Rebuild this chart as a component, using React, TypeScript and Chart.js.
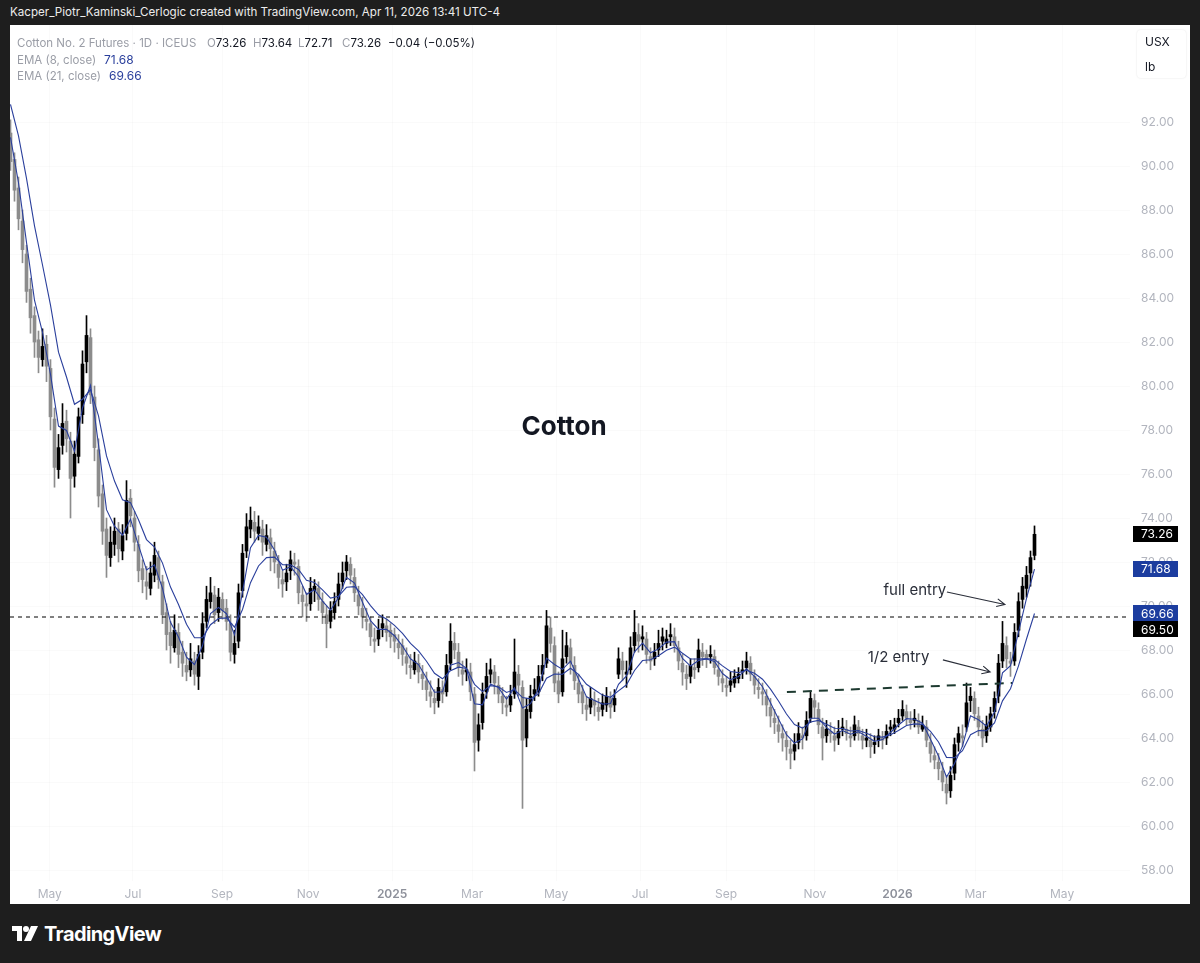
import React, { useEffect, useRef } from 'react';
import { Chart, registerables } from 'chart.js';

Chart.register(...registerables);

const FONT = 'Inter, "Noto Sans", "Liberation Sans", sans-serif';

// ---- Candles (one bar per position index) ----
const opens = [
  91.5,90.3,89.0,87.5,86.0,84.4,83.2,82.1,81.2,81.9,
  80.8,78.5,76.2,77.3,78.4,77.5,75.9,76.8,78.7,81.1,
  82.2,79.5,77.1,75.1,73.5,72.2,72.8,73.5,72.5,73.3,
  74.9,74.0,72.8,71.7,71.1,70.8,71.4,72.2,71.1,69.7,
  68.8,68.1,68.8,67.9,67.3,67.1,67.5,66.8,67.9,69.3,
  70.2,70.5,69.7,70.3,69.9,69.2,67.8,68.4,70.7,72.5,
  73.5,73.8,73.3,73.5,72.8,73.1,72.5,71.9,71.2,71.1,
  71.6,72.0,71.8,70.5,70.1,70.1,70.7,70.8,70.2,69.6,
  69.3,69.7,70.3,71.1,71.6,71.9,71.3,70.5,69.9,69.4,
  69.2,68.5,68.5,69.0,69.1,68.9,68.7,68.3,68.2,67.7,
  67.3,67.1,67.4,66.9,66.6,66.1,65.8,65.7,66.2,66.1,
  67.4,68.3,67.9,67.1,67.0,67.0,66.0,63.9,64.7,66.1,
  66.9,67.0,66.4,65.9,65.5,65.5,66.0,66.9,66.3,64.0,
  65.2,66.0,66.1,66.9,67.4,69.0,68.2,66.6,66.1,67.7,
  68.1,67.3,66.5,66.1,65.5,65.4,65.7,65.4,65.3,65.5,
  65.8,65.5,66.9,67.5,66.9,67.1,68.2,68.7,68.5,68.5,
  67.7,67.6,68.0,68.4,68.3,68.6,68.6,68.1,67.4,66.9,
  66.8,67.2,67.2,67.9,67.8,67.7,67.7,67.1,66.7,66.4,
  66.4,66.5,66.7,67.0,67.2,67.4,66.8,66.3,66.1,65.9,
  65.4,64.9,64.6,64.2,63.9,63.5,63.4,63.8,64.1,64.1,
  64.9,65.7,65.3,64.5,64.1,64.3,64.1,64.0,64.4,64.4,
  64.1,64.1,64.5,64.1,63.9,63.9,63.7,63.9,64.0,64.0,
  64.4,64.4,64.7,65.0,65.2,64.8,64.8,64.8,64.4,64.5,
  63.8,63.2,62.9,62.5,61.9,61.6,62.4,63.8,64.1,64.5,
  65.7,65.8,65.0,64.4,64.1,64.5,65.2,65.9,67.5,68.2,
  67.5,67.5,68.9,70.3,70.8,71.5,72.3,
];
const highs = [
  92.1,90.6,89.5,88.0,86.4,84.9,83.6,82.5,82.6,82.3,
  81.2,79.0,77.8,79.2,78.9,77.9,77.5,79.0,81.6,83.2,
  82.6,80.0,77.6,75.5,74.0,73.6,74.0,73.8,73.7,75.7,
  75.3,74.3,73.2,72.1,71.8,72.0,72.9,72.5,71.4,70.1,
  69.3,69.6,69.2,68.4,67.9,68.3,67.9,68.2,69.7,70.9,
  71.3,70.9,70.8,70.6,70.3,69.6,68.9,71.0,72.8,74.2,
  74.5,74.3,74.1,73.9,73.7,73.5,72.9,72.3,71.6,71.9,
  72.5,72.4,72.1,70.9,70.6,71.3,71.2,71.1,70.6,70.0,
  70.2,70.6,71.5,72.0,72.3,72.2,71.7,70.9,70.4,69.9,
  69.5,69.0,69.4,69.6,69.4,69.2,69.0,68.7,68.5,68.1,
  67.8,67.9,67.8,67.3,67.0,66.6,66.2,66.7,66.6,67.8,
  69.2,68.8,68.3,67.5,67.6,67.4,66.3,65.1,66.5,67.4,
  67.6,67.3,66.8,66.3,65.9,66.4,68.5,67.3,66.6,65.8,
  66.4,66.7,67.3,67.8,69.8,69.5,68.6,67.0,68.9,68.8,
  68.5,67.7,66.9,66.4,65.9,66.3,66.1,65.8,66.0,66.3,
  66.1,66.2,68.1,67.9,67.5,68.6,69.8,69.2,69.1,68.8,
  68.1,68.3,68.9,69.0,68.9,69.2,69.0,68.4,67.8,67.3,
  67.6,67.6,68.5,68.3,68.0,68.2,68.0,67.5,67.1,66.8,
  67.0,67.1,67.2,67.5,67.9,67.7,67.1,66.7,66.5,66.2,
  65.8,65.3,65.0,64.6,64.3,63.9,64.2,64.7,64.5,65.2,
  66.1,66.0,65.6,64.9,64.8,64.7,64.5,64.8,64.9,64.8,
  64.5,65.0,64.8,64.4,64.4,64.2,64.1,64.4,64.3,64.6,
  64.8,64.9,65.3,65.7,65.5,65.2,65.3,65.1,65.0,64.8,
  64.2,63.6,63.3,62.9,62.3,62.7,64.0,64.5,64.6,66.5,
  66.3,66.1,65.4,64.8,65.0,65.4,66.1,67.8,69.3,68.6,
  67.9,69.2,70.6,71.3,71.8,72.5,73.64,
];
const lows = [
  89.8,88.4,87.1,85.6,83.8,82.4,81.3,80.6,80.9,80.2,
  78.0,75.4,75.8,76.9,77.0,74.0,75.4,76.5,78.3,80.6,
  79.2,76.6,74.5,72.8,71.3,71.8,72.3,72.0,72.1,73.0,
  73.6,72.5,71.1,70.6,70.3,70.5,71.1,70.8,69.2,68.0,
  67.4,67.9,67.2,66.8,66.6,66.8,66.4,66.2,67.6,69.0,
  69.9,69.2,69.3,69.4,68.9,67.5,67.4,68.1,70.4,72.2,
  73.1,72.9,73.0,72.3,72.5,71.6,71.5,70.8,70.4,70.7,
  71.2,71.4,70.1,69.5,69.3,69.8,70.2,69.8,69.2,68.1,
  69.0,69.4,70.0,70.8,71.2,71.0,70.2,69.6,69.0,68.9,
  68.2,67.9,68.2,68.6,68.4,68.1,67.9,67.6,67.3,66.9,
  66.7,66.9,66.5,66.2,65.7,65.4,65.1,65.4,65.6,65.9,
  67.1,67.6,66.8,66.4,66.6,65.7,62.5,63.4,64.4,65.8,
  66.5,66.0,65.6,65.1,65.0,65.2,65.8,65.9,60.8,63.6,
  64.9,65.7,65.9,66.6,67.2,67.9,66.1,65.6,65.9,67.4,
  66.9,66.2,65.6,65.1,64.8,65.1,65.0,64.8,65.0,65.2,
  64.9,65.2,66.7,66.6,66.3,66.9,67.9,67.9,68.0,67.4,
  67.1,67.3,67.7,68.0,68.1,68.2,67.9,67.1,66.4,66.2,
  66.5,66.7,67.0,67.3,67.2,67.4,66.9,66.4,66.1,65.9,
  66.1,66.3,66.5,66.7,66.9,66.6,66.0,65.8,65.5,65.0,
  64.5,64.2,63.8,63.4,63.0,62.6,63.0,63.5,63.5,63.9,
  64.7,64.9,64.2,63.0,63.8,63.8,63.4,63.7,64.1,63.9,
  63.6,63.9,63.9,63.5,63.6,63.1,63.3,63.6,63.5,63.7,
  64.1,64.2,64.5,64.8,64.6,64.4,64.5,64.2,64.3,63.6,
  62.9,62.6,62.1,61.6,61.0,61.3,62.1,63.4,63.6,64.3,
  65.2,64.8,64.1,63.6,63.8,64.3,64.9,65.6,67.2,67.2,
  66.8,67.3,68.6,69.9,70.4,70.9,72.1,
];
const closes = [
  90.2,88.9,87.6,86.2,84.3,83.1,82.0,81.3,81.8,80.9,
  78.6,76.3,77.2,78.3,77.6,75.8,76.9,78.6,81.0,82.3,
  79.6,77.2,75.0,73.4,72.3,72.9,73.4,72.6,73.2,74.8,
  74.1,72.9,71.6,71.2,70.9,71.5,72.3,71.2,69.6,68.7,
  68.2,68.9,67.8,67.4,67.0,67.6,66.9,67.8,69.2,70.3,
  70.6,69.6,70.4,69.8,69.3,67.9,68.3,70.6,72.4,73.6,
  73.9,73.4,73.6,72.9,73.2,72.6,72.0,71.3,71.0,71.5,
  72.1,71.9,70.6,70.2,70.0,70.8,70.9,70.3,69.7,69.2,
  69.8,70.2,71.0,71.5,72.0,71.4,70.6,70.0,69.5,69.3,
  68.6,68.4,68.9,69.2,68.8,68.6,68.4,68.1,67.8,67.4,
  67.2,67.5,67.0,66.7,66.2,65.9,65.6,66.3,66.0,67.3,
  68.4,68.0,67.2,66.9,67.1,66.1,63.8,64.6,66.0,66.8,
  67.1,66.5,66.0,65.6,65.4,65.9,67.0,66.4,63.9,65.3,
  65.9,66.2,66.8,67.3,69.1,68.3,66.5,66.0,67.6,68.2,
  67.4,66.6,66.0,65.6,65.3,65.8,65.5,65.2,65.6,65.9,
  65.4,65.8,67.6,67.1,67.0,68.1,68.8,68.4,68.6,67.8,
  67.5,67.9,68.3,68.6,68.5,68.7,68.2,67.5,67.0,66.7,
  67.3,67.1,68.0,67.7,67.6,67.8,67.2,66.8,66.5,66.3,
  66.6,66.8,66.9,67.1,67.5,66.9,66.4,66.2,66.0,65.5,
  65.0,64.7,64.3,64.0,63.6,63.3,63.7,64.2,64.0,64.8,
  65.8,65.4,64.6,64.0,64.4,64.2,63.9,64.3,64.5,64.2,
  64.0,64.6,64.2,63.9,64.0,63.6,63.8,64.1,63.9,64.3,
  64.5,64.6,64.9,65.3,64.9,64.7,64.9,64.5,64.6,63.9,
  63.3,63.0,62.6,62.0,61.5,62.3,63.7,64.2,64.0,65.6,
  65.9,65.1,64.5,64.0,64.6,65.1,65.8,67.4,68.3,67.6,
  67.4,68.8,70.2,70.9,71.4,72.2,73.26,
];

// ---- EMA lines (one point every 2 bars) ----
const EMA_STEP = 2;
const ema8 = [
  91.3,89.24,86.53,83.90,82.44,80.53,78.18,77.98,77.03,79.00,
  80.03,77.34,74.38,73.63,73.22,73.95,72.76,71.64,71.87,70.80,
  69.26,68.59,67.67,67.34,68.19,69.66,69.94,69.65,68.69,70.63,
  72.65,73.21,73.13,72.55,71.63,71.79,71.34,70.53,70.74,70.22,
  69.81,70.38,71.30,71.04,70.17,69.33,68.94,68.94,68.65,68.18,
  67.60,67.34,66.73,66.08,66.10,67.31,67.43,67.17,65.56,65.51,
  66.46,66.29,65.77,66.29,65.36,65.56,66.21,67.63,67.34,67.12,
  67.49,66.68,65.87,65.70,65.54,65.57,66.44,66.82,67.92,68.31,
  67.87,68.05,68.36,68.38,67.62,67.27,67.52,67.59,67.48,66.93,
  66.65,66.79,67.15,66.79,66.33,65.60,64.86,64.15,63.77,63.96,
  64.90,64.90,64.48,64.18,64.34,64.17,64.28,64.08,63.85,63.93,
  64.25,64.59,64.88,64.85,64.67,63.94,63.18,62.23,62.84,63.63,
  65.01,64.83,64.54,65.18,66.96,67.29,68.81,70.35,71.68,
];
const ema21 = [
  92.8,91.37,89.44,87.28,85.50,83.68,81.54,80.41,79.17,79.40,
  79.84,78.64,76.82,75.68,74.83,74.70,73.92,73.02,72.68,71.95,
  70.86,70.07,69.17,68.56,68.56,69.15,69.43,69.46,69.04,69.84,
  71.06,71.82,72.20,72.22,71.88,71.87,71.66,71.17,71.07,70.73,
  70.36,70.44,70.85,70.88,70.52,70.02,69.60,69.41,69.12,68.76,
  68.30,67.96,67.49,66.94,66.69,67.06,67.22,67.16,66.44,66.11,
  66.38,66.33,66.07,66.20,65.84,65.78,66.01,66.72,66.91,66.90,
  67.17,66.89,66.44,66.19,65.95,65.85,66.14,66.42,67.07,67.52,
  67.56,67.74,67.99,68.13,67.85,67.59,67.59,67.61,67.57,67.28,
  67.02,66.97,67.08,66.94,66.67,66.22,65.68,65.09,64.61,64.45,
  64.73,64.80,64.62,64.44,64.43,64.32,64.34,64.22,64.06,64.04,
  64.15,64.34,64.57,64.64,64.62,64.30,63.82,63.12,63.10,63.42,
  64.15,64.34,64.33,64.69,65.69,66.24,67.28,68.50,69.66,
];

// ---- Axes ----
const tickPositions = [9.8, 30.6, 52.9, 74.4, 95.4, 115.4, 136.4, 157.4, 178.9, 201.1, 221.75, 241.25, 262.9];
const tickLabels = ['May', 'Jul', 'Sep', 'Nov', '2025', 'Mar', 'May', 'Jul', 'Sep', 'Nov', '2026', 'Mar', 'May'];
const priceTicks = [58, 60, 62, 64, 66, 68, 70, 72, 74, 76, 78, 80, 82, 84, 86, 88, 90, 92];
const X_MIN = -0.125;
const X_MAX = 279.875;
const Y_MIN = 57.5;
const Y_MAX = 96.41;

// ---- Drawings ----
const levelValue = 69.5;
const breakoutPos = [194.1, 250.4];
const breakoutValues = [66.09, 66.5];
const titleText = 'Cotton';
const titlePos = [138.4, 78.14];
const noteTexts = ['full entry', '1/2 entry'];
const noteTextPos = [[226.1, 70.71], [222.0, 67.64]];
const noteArrowFrom = [[234.1, 70.64], [233.1, 67.55]];
const noteArrowTo = [[248.6, 70.07], [244.9, 67.0]];

// ---- Legend ----
const symbolName = 'Cotton No. 2 Futures · 1D · ICEUS';
const legendOHLC = ['73.26', '73.64', '72.71', '73.26'];
const legendChange = '−0.04 (−0.05%)';

const UP = '#000000';
const DOWN = '#8c8c8c';
const BLUE = '#2a3f9c';
const BOX_BLUE = '#1c3d9f';

export default function App() {
  const ref = useRef<HTMLCanvasElement | null>(null);

  useEffect(() => {
    const canvas = ref.current;
    if (!canvas) return;
    const colors = closes.map((c, i) => (c >= opens[i] ? UP : DOWN));

    const overlay = {
      id: 'overlay',
      afterDatasetsDraw(chart: any) {
        const { ctx } = chart;
        const xs = chart.scales.x;
        const ys = chart.scales.y;
        ctx.save();
        ctx.fillStyle = '#131722';
        ctx.font = `700 26px ${FONT}`;
        ctx.textAlign = 'center';
        ctx.textBaseline = 'middle';
        ctx.fillText(titleText, xs.getPixelForValue(titlePos[0]), ys.getPixelForValue(titlePos[1]));

        ctx.font = `400 15px ${FONT}`;
        ctx.fillStyle = '#2a2e39';
        noteTexts.forEach((t, k) => {
          ctx.fillText(t, xs.getPixelForValue(noteTextPos[k][0]), ys.getPixelForValue(noteTextPos[k][1]));
          const x1 = xs.getPixelForValue(noteArrowFrom[k][0]);
          const y1 = ys.getPixelForValue(noteArrowFrom[k][1]);
          const x2 = xs.getPixelForValue(noteArrowTo[k][0]);
          const y2 = ys.getPixelForValue(noteArrowTo[k][1]);
          ctx.strokeStyle = '#2a2e39';
          ctx.lineWidth = 1.1;
          ctx.beginPath();
          ctx.moveTo(x1, y1);
          ctx.lineTo(x2, y2);
          const a = Math.atan2(y2 - y1, x2 - x1);
          const L = 9;
          ctx.moveTo(x2 - L * Math.cos(a - 0.45), y2 - L * Math.sin(a - 0.45));
          ctx.lineTo(x2, y2);
          ctx.lineTo(x2 - L * Math.cos(a + 0.45), y2 - L * Math.sin(a + 0.45));
          ctx.stroke();
        });
        ctx.restore();
      },
      afterDraw(chart: any) {
        const { ctx, chartArea } = chart;
        const ys = chart.scales.y;
        const boxes = [
          { v: closes[closes.length - 1], bg: '#000000' },
          { v: ema8[ema8.length - 1], bg: BOX_BLUE },
          { v: ema21[ema21.length - 1], bg: BOX_BLUE },
          { v: levelValue, bg: '#000000' },
        ]
          .map((b) => ({ ...b, y: ys.getPixelForValue(b.v) }))
          .sort((a, b) => a.y - b.y);
        for (let i = 1; i < boxes.length; i++) {
          if (boxes[i].y < boxes[i - 1].y + 16) boxes[i].y = boxes[i - 1].y + 16;
        }
        ctx.save();
        ctx.font = `400 12px ${FONT}`;
        ctx.textAlign = 'left';
        ctx.textBaseline = 'middle';
        boxes.forEach((b) => {
          ctx.fillStyle = b.bg;
          ctx.fillRect(chartArea.right + 3, Math.round(b.y - 8), 45, 16);
          ctx.fillStyle = '#ffffff';
          ctx.fillText(b.v.toFixed(2), chartArea.right + 11, b.y + 0.5);
        });
        ctx.restore();
      },
    };

    const isYear = (s: string) => /^\d{4}$/.test(s || '');

    const chart = new Chart(canvas, {
      type: 'bar',
      data: {
        datasets: [
          {
            type: 'line',
            label: 'EMA 8',
            data: ema8.map((v, k) => ({ x: k * EMA_STEP, y: v })),
            borderColor: BLUE,
            borderWidth: 1.1,
            pointRadius: 0,
            tension: 0,
            order: 0,
          },
          {
            type: 'line',
            label: 'EMA 21',
            data: ema21.map((v, k) => ({ x: k * EMA_STEP, y: v })),
            borderColor: BLUE,
            borderWidth: 1.1,
            pointRadius: 0,
            tension: 0,
            order: 0,
          },
          {
            type: 'line',
            label: 'level',
            data: [{ x: X_MIN, y: levelValue }, { x: X_MAX, y: levelValue }],
            borderColor: '#000000',
            borderWidth: 1,
            borderDash: [4, 4],
            pointRadius: 0,
            order: 1,
          },
          {
            type: 'line',
            label: 'breakout',
            data: breakoutPos.map((p, k) => ({ x: p, y: breakoutValues[k] })),
            borderColor: '#1d3a30',
            borderWidth: 2,
            borderDash: [9, 7],
            pointRadius: 0,
            order: 1,
          },
          {
            type: 'bar',
            label: 'bodies',
            data: closes.map((c, i) => ({ x: i, y: [opens[i], c] })),
            backgroundColor: colors,
            borderWidth: 0,
            barThickness: 3,
            grouped: false,
            order: 2,
          },
          {
            type: 'bar',
            label: 'wicks',
            data: closes.map((_c, i) => ({ x: i, y: [lows[i], highs[i]] })),
            backgroundColor: colors,
            borderWidth: 0,
            barThickness: 1,
            grouped: false,
            order: 3,
          },
        ],
      } as any,
      options: {
        animation: false,
        responsive: false,
        maintainAspectRatio: false,
        layout: { padding: 0 },
        plugins: { legend: { display: false }, tooltip: { enabled: false } },
        scales: {
          x: {
            type: 'linear',
            min: X_MIN,
            max: X_MAX,
            offset: false,
            grid: { color: 'rgba(42,46,57,0.025)', drawTicks: false, offset: false },
            border: { display: false },
            afterBuildTicks: (s: any) => {
              s.ticks = tickPositions.map((v) => ({ value: v }));
            },
            afterFit: (s: any) => {
              s.height = 23;
              s.paddingLeft = 0;
              s.paddingRight = 0;
              s.paddingTop = 0;
              s.paddingBottom = 0;
            },
            ticks: {
              autoSkip: false,
              maxRotation: 0,
              padding: 6,
              callback: (_v: any, i: number) => tickLabels[i],
              color: (c: any) => (isYear(tickLabels[c.index]) ? '#8d909a' : '#b2b5be'),
              font: (c: any) => ({ family: FONT, size: 12, weight: isYear(tickLabels[c.index]) ? '600' : '400' }),
            },
          },
          y: {
            type: 'linear',
            position: 'right',
            min: Y_MIN,
            max: Y_MAX,
            grid: { color: 'rgba(42,46,57,0.025)', drawTicks: false },
            border: { display: false },
            afterBuildTicks: (s: any) => {
              s.ticks = priceTicks.map((v) => ({ value: v }));
            },
            afterFit: (s: any) => {
              s.width = 60;
              s.paddingTop = 0;
              s.paddingBottom = 0;
              s.paddingLeft = 0;
              s.paddingRight = 0;
            },
            ticks: {
              padding: 11,
              color: '#b2b5be',
              font: { family: FONT, size: 12 },
              callback: (v: any) => Number(v).toFixed(2),
            },
          },
        },
      } as any,
      plugins: [overlay],
    });
    return () => chart.destroy();
  }, []);

  const grey = '#9a9da6';
  const dark = '#131722';
  const pieceStyle = (left: number, top: number) => ({
    position: 'absolute' as const,
    left,
    top,
    whiteSpace: 'nowrap' as const,
  });

  return (
    <div
      style={{
        position: 'absolute',
        left: 0,
        top: 0,
        width: 1200,
        height: 963,
        background: '#1e1e1e',
        overflow: 'hidden',
        fontFamily: FONT,
      }}
    >
      <div style={{ position: 'absolute', left: 10, top: 4, color: '#ececec', fontSize: 11.6, lineHeight: '16px', whiteSpace: 'nowrap' }}>
        Kacper_Piotr_Kaminski_Cerlogic created with TradingView.com, Apr 11, 2026 13:41 UTC-4
      </div>
      <div style={{ position: 'absolute', left: 10, top: 25, width: 1180, height: 879, background: '#ffffff' }}>
        <canvas ref={ref} width={1180} height={879} style={{ display: 'block', width: 1180, height: 879 }} />
        <div style={{ position: 'absolute', left: 0, top: 0, fontSize: 11.5, lineHeight: '16px', color: grey }}>
          <span style={pieceStyle(7, 10)}>{symbolName}</span>
          <span style={pieceStyle(197, 10)}>O<span style={{ color: dark }}>{legendOHLC[0]}</span></span>
          <span style={pieceStyle(243, 10)}>H<span style={{ color: dark }}>{legendOHLC[1]}</span></span>
          <span style={pieceStyle(288, 10)}>L<span style={{ color: dark }}>{legendOHLC[2]}</span></span>
          <span style={pieceStyle(332, 10)}>C<span style={{ color: dark }}>{legendOHLC[3]}</span></span>
          <span style={{ ...pieceStyle(378, 10), color: dark }}>{legendChange}</span>
          <span style={pieceStyle(7, 27)}>EMA (8, close)</span>
          <span style={{ ...pieceStyle(94, 27), color: BLUE, fontSize: 12 }}>{ema8[ema8.length - 1].toFixed(2)}</span>
          <span style={pieceStyle(7, 43)}>EMA (21, close)</span>
          <span style={{ ...pieceStyle(99, 43), color: BLUE, fontSize: 12 }}>{ema21[ema21.length - 1].toFixed(2)}</span>
        </div>
        <div
          style={{
            position: 'absolute',
            left: 1127,
            top: 5,
            width: 49,
            height: 48,
            borderRadius: 4,
            background: '#ffffff',
            boxShadow: '0 0 2px rgba(0,0,0,0.12)',
            fontSize: 12,
            color: dark,
          }}
        >
          <span style={pieceStyle(8, 4)}>USX</span>
          <span style={pieceStyle(8, 29)}>lb</span>
        </div>
      </div>
      <div style={{ position: 'absolute', left: 12, top: 925 }}>
        <svg width="28" height="18" viewBox="0 0 28 18">
          <path d="M0 1 H10 V16 H5 V6 H0 Z" fill="#ffffff" />
          <circle cx="14" cy="4" r="3" fill="#ffffff" />
          <path d="M19 1 H26 L19 16 H12 Z" fill="#ffffff" />
        </svg>
      </div>
      <div
        style={{
          position: 'absolute',
          left: 44,
          top: 921,
          color: '#ffffff',
          fontSize: 20,
          fontWeight: 700,
          letterSpacing: -0.6,
          lineHeight: '26px',
          whiteSpace: 'nowrap',
        }}
      >
        TradingView
      </div>
    </div>
  );
}
